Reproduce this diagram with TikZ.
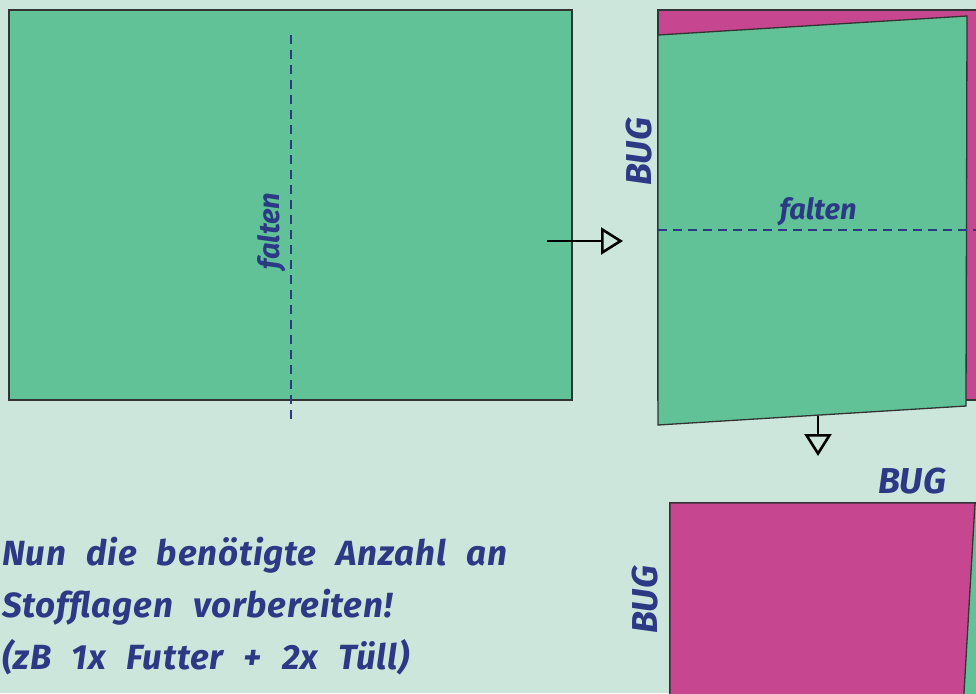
\documentclass[tikz,border=0pt]{standalone}
\usepackage{fontspec}
\setmainfont{Fira Sans}
\newfontfamily\handschrift[LetterSpace=2.3,WordSpace=2.3]{Fira Sans}
\usetikzlibrary{arrows.meta}
\definecolor{mint}{HTML}{CCE6DC}
\definecolor{stoffgruen}{HTML}{61C197}
\definecolor{stoffpink}{HTML}{C6468F}
\definecolor{tinte}{HTML}{2C3A85}
\definecolor{kante}{HTML}{333333}

\begin{document}
\begin{tikzpicture}[x=1pt,y=-1pt]
          \tikzstyle{stoff} = [draw=kante, line width=1.3pt]
          \tikzstyle{falz} = [tinte, line width=2.8pt, dash pattern=on 9pt off 6pt]
          \tikzstyle{schrift} = [text=tinte, font=\fontsize{29}{31}\selectfont\bfseries\itshape, inner sep=0pt]
          \tikzstyle{bug} = [text=tinte, font=\fontsize{36}{38}\selectfont\bfseries\itshape, inner sep=0pt]
          \tikzstyle{hinweis} = [text=tinte, font=\handschrift\fontsize{35}{37}\selectfont\bfseries\itshape, inner sep=0pt, anchor=base west]
          \tikzstyle{pfeil} = [black, line width=2.6pt, -{Triangle[open,length=22pt,width=27pt,line width=2.6pt]}]
        \fill[mint] (0,0) rectangle (976,693);
        \useasboundingbox (0,0) rectangle (976,693);
        % erste Lage
        \draw[stoff, fill=stoffgruen] (9,10) rectangle (572,400);
        \draw[falz] (291,35) -- (291,420);
        \node[schrift, rotate=90] (f1) at (272,231) {falten};
        % gefaltet
        \draw[stoff, fill=stoffpink] (658,10) rectangle (990,400);
        \draw[stoff, fill=stoffgruen] (658,35) -- (967,16) -- (966,406) -- (658,425) -- cycle;
        \draw[falz] (658,230) -- (990,230);
        \node[schrift] (f2) at (818,212) {falten};
        \node[bug, rotate=90] (b1) at (639,152) {BUG};
        % nochmal gefaltet
        \draw[stoff, fill=stoffgruen] (670,503) rectangle (990,710);
        \draw[stoff, fill=stoffpink] (670,503) -- (975,503) -- (963,710) -- (670,710) -- cycle;
        \node[bug] (b2) at (912,481) {BUG};
        \node[bug, rotate=90] (b3) at (645,600) {BUG};
        % Pfeile
        \coordinate (a1) at (547,241);
        \coordinate (a2) at (623,241);
        \coordinate (a3) at (818,416);
        \coordinate (a4) at (818,456);
        \draw[pfeil] (a1) -- (a2);
        \draw[pfeil] (a3) -- (a4);
        % Text
        \node[hinweis] (t1) at (2,565) {Nun die benötigte Anzahl an};
        \node[hinweis] (t2) at (2,617) {Stofflagen vorbereiten!};
        \node[hinweis] (t3) at (2,669) {(zB 1x Futter + 2x Tüll)};
      \end{tikzpicture}
\end{document}
